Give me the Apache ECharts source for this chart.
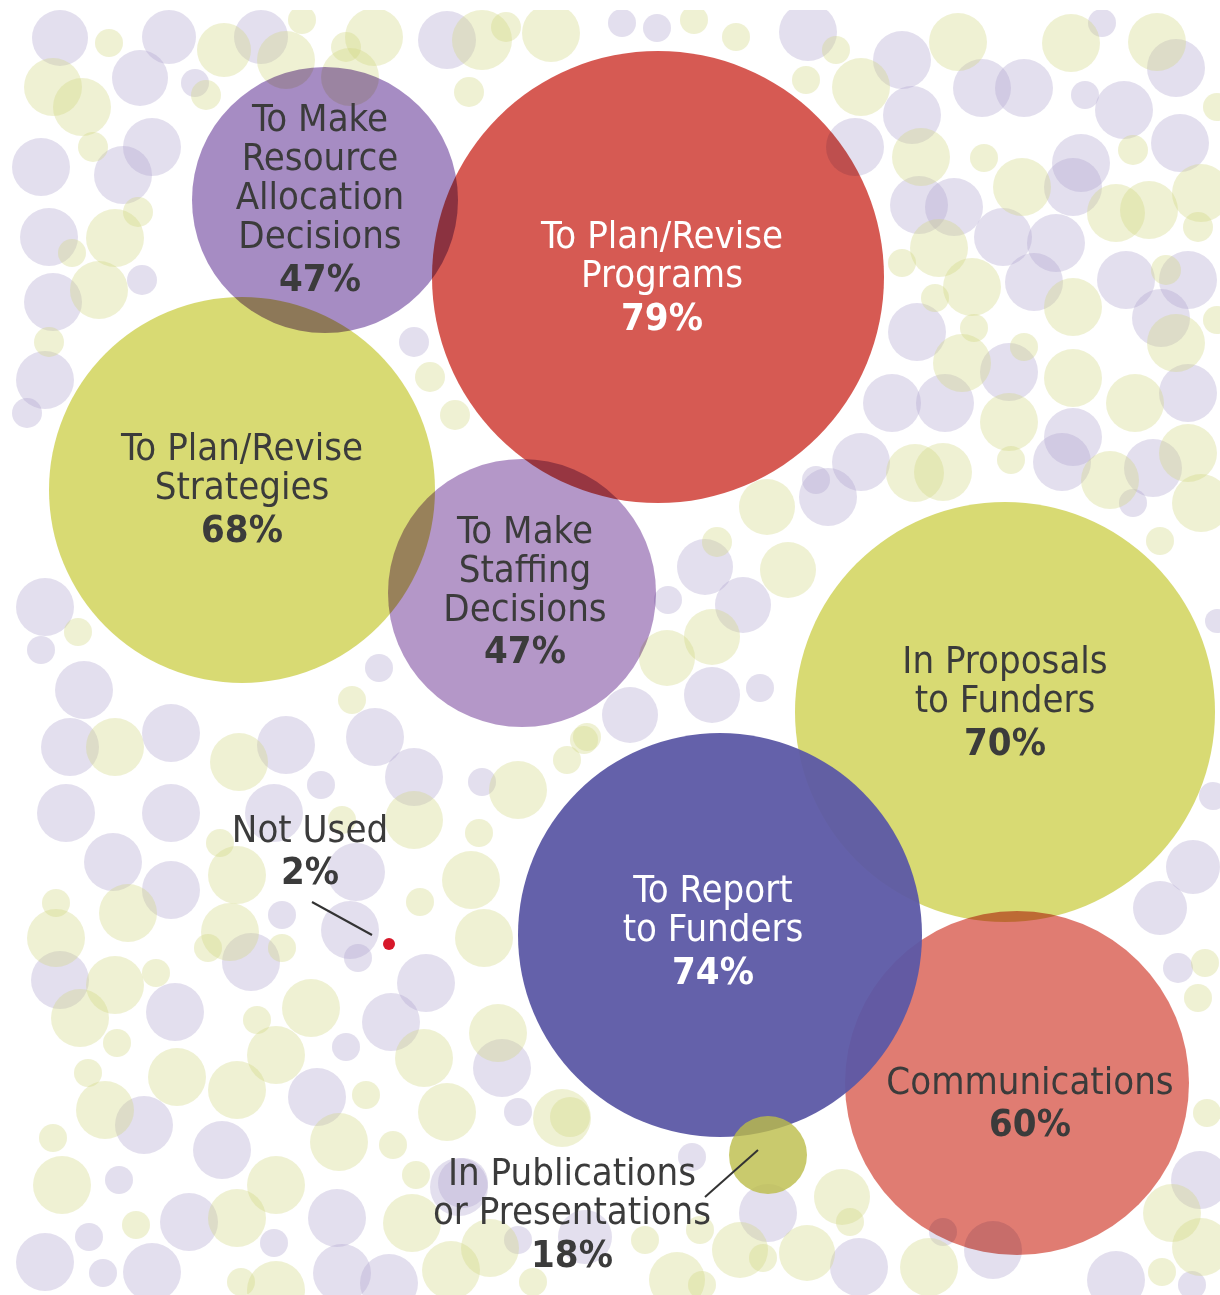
<!DOCTYPE html>
<html>
<head>
<meta charset="utf-8">
<script src="https://cdn.jsdelivr.net/npm/echarts@6/dist/echarts.min.js"></script>
<style>
  html, body { margin: 0; padding: 0; background: #fff; }
  #chart { width: 1220px; height: 1295px; }
</style>
</head>
<body>
<div id="chart"></div>
<script>
// uses of evaluation results (share of respondents)
const categories = [
  'To Make\nResource\nAllocation\nDecisions',
  'To Plan/Revise\nPrograms',
  'To Plan/Revise\nStrategies',
  'To Make\nStaffing\nDecisions',
  'In Proposals\nto Funders',
  'To Report\nto Funders',
  'Communications',
  'In Publications\nor Presentations',
  'Not Used'
];
const percents = [47, 79, 68, 47, 70, 74, 60, 18, 2];

// bubble layout (x, y, radius in px)
const bubbleX = [325, 658, 242, 522, 1005, 720, 1017, 768, 389];
const bubbleY = [200, 277, 490, 593, 712, 935, 1083, 1155, 944];
const bubbleR = [133, 226, 193, 134, 210, 202, 172, 39, 6];
const bubbleColors = ['#a68cc3', '#d65a53', '#d8da73', '#b497c8', '#d8da73', '#5c58a5', '#e07c72', '#bcbd48', '#d7182a'];
const textColors = ['#3b3b3b', '#ffffff', '#3b3b3b', '#3b3b3b', '#3b3b3b', '#ffffff', '#3b3b3b', '#3b3b3b', '#3b3b3b'];
const labelOffsets = [[-5, 3], [4, 4], [0, 3], [3, 2], [0, -6], [-7, 0], [13, 24], [-196, 63], [-79, -89]];
// 0 = multiply with what is under it, 1 / 2 = plain blend on top
const blendGroup = [0, 0, 0, 0, 0, 1, 0, 2, 0];

// leader lines for the labels placed outside their bubbles
const leaderLines = [
  [[312, 902], [372, 935]],
  [[705, 1197], [758, 1150]]
];

// decorative background dots [x, y, r]
const bgPurple = [
  [60,38,28],[169,37,27],[140,78,28],[195,83,14],[261,37,27],[447,40,29],[41,167,29],[152,147,29],
  [123,175,29],[49,237,29],[142,280,15],[53,302,29],[45,380,29],[414,342,15],[27,413,15],
  [622,23,14],[657,28,14],[808,32,29],[902,60,29],[912,115,29],[982,88,29],[1024,88,29],[1102,23,14],
  [1176,68,29],[1085,95,14],[1124,110,29],[855,147,29],[1081,163,29],[1073,187,29],[1180,143,29],
  [919,205,29],[954,207,29],[1003,237,29],[1056,243,29],[1034,282,29],[1126,280,29],[1188,280,29],
  [1161,318,29],[917,332,29],[1009,372,29],[1188,393,29],[892,403,29],[945,403,29],[1073,437,29],
  [1062,462,29],[1153,468,29],[861,462,29],[816,480,14],[828,497,29],[1133,503,14],
  [1217,621,12],[1213,796,14],[1193,867,27],[1160,908,27],[1178,968,15],
  [705,567,28],[668,600,14],[743,605,28],[712,695,28],[760,688,14],[630,715,28],
  [45,607,29],[41,650,14],[84,690,29],[379,668,14],[70,747,29],[171,733,29],[286,745,29],[375,737,29],
  [321,785,14],[414,777,29],[482,782,14],[66,813,29],[171,813,29],[274,813,29],[113,862,29],
  [171,890,29],[356,872,29],[282,915,14],[251,962,29],[350,930,29],[358,958,14],[426,983,29],
  [60,980,29],[175,1012,29],[391,1022,29],[346,1047,14],[502,1068,29],[317,1097,29],[144,1125,29],
  [518,1112,14],[222,1150,29],[119,1180,14],[459,1187,29],[189,1222,29],[337,1218,29],[89,1237,14],
  [274,1243,14],[45,1262,29],[103,1273,14],[152,1272,29],[342,1273,29],[389,1283,29],[518,1240,14],
  [463,1183,25],[585,1237,27],[692,1157,14],[768,1213,29],[859,1267,29],[943,1232,14],[993,1250,29],
  [1200,1180,29],[1116,1280,29],[1192,1285,14]
];
const bgYellow = [
  [109,43,14],[53,87,29],[82,107,29],[206,95,15],[224,50,27],[286,60,29],[302,20,14],[346,47,15],
  [350,77,29],[374,37,29],[482,40,30],[506,27,15],[551,33,29],[469,92,15],[93,147,15],[138,212,15],
  [115,238,29],[72,253,14],[99,290,29],[49,342,15],[430,377,15],[455,415,15],
  [694,20,14],[736,37,14],[836,50,14],[806,80,14],[861,87,29],[958,42,29],[1071,43,29],[1157,42,29],
  [1217,107,14],[921,157,29],[984,158,14],[1022,187,29],[1133,150,15],[1116,213,29],[1149,210,29],
  [1201,193,29],[1198,227,15],[939,248,29],[902,263,14],[972,287,29],[935,298,14],[1073,307,29],
  [1166,270,15],[1176,343,29],[1217,320,14],[974,328,14],[1024,347,14],[962,363,29],[1073,378,29],
  [1135,403,29],[1009,422,29],[1011,460,14],[1188,453,29],[1110,480,29],[915,473,29],[943,472,29],
  [767,507,28],[1201,503,29],[1160,541,14],
  [717,542,15],[788,570,28],[712,637,28],[667,658,28],[587,737,14],[567,760,14],
  [78,632,14],[352,700,14],[115,747,29],[239,762,29],[584,740,14],[518,790,29],[414,820,29],
  [479,833,14],[342,820,14],[220,843,14],
  [237,875,29],[471,880,29],[56,903,14],[56,938,29],[128,913,29],[230,932,29],[208,948,14],[282,948,14],
  [420,902,14],[484,938,29],[115,985,29],[156,973,14],[80,1018,29],[117,1043,14],[257,1020,14],
  [311,1008,29],[276,1055,29],[424,1058,29],[498,1033,29],[88,1073,14],[177,1077,29],[237,1090,29],
  [366,1095,14],[105,1110,29],[447,1112,29],[562,1118,29],[53,1138,14],[339,1142,29],[393,1145,14],
  [62,1185,29],[276,1185,29],[416,1175,14],[136,1225,14],[237,1218,29],[412,1223,29],[241,1282,14],
  [276,1290,29],[451,1270,29],[490,1248,29],[533,1282,14],
  [570,1117,20],[740,1250,28],[807,1253,28],[763,1258,14],[842,1197,28],[850,1222,14],[700,1230,14],
  [645,1240,14],[677,1280,28],[702,1285,14],[929,1267,29],
  [1205,963,14],[1198,998,14],[1207,1113,14],[1172,1213,29],[1201,1247,29],[1162,1272,14]
];

const fontFamily = "'Liberation Sans Narrow', 'DejaVu Sans Condensed', sans-serif";

function bubbleSeries(group) {
  return categories
    .map((name, i) => ({
      name: name,
      value: [bubbleX[i], bubbleY[i], bubbleR[i]],
      itemStyle: { color: bubbleColors[i] },
      g: blendGroup[i]
    }))
    .filter(d => d.g === group)
    .map(d => ({ name: d.name, value: d.value, itemStyle: d.itemStyle }));
}

const labelData = categories.map((name, i) => ({
  name: name,
  value: [bubbleX[i], bubbleY[i], percents[i]],
  label: {
    show: true,
    position: 'inside',
    offset: labelOffsets[i],
    formatter: function () {
      return '{t|' + name.split('\n').join('}\n{t|') + '}\n{p|' + percents[i] + '%}';
    },
    rich: {
      t: { fontFamily: fontFamily, fontSize: 38, lineHeight: 39, color: textColors[i], align: 'center' },
      p: { fontFamily: fontFamily, fontSize: 38, fontWeight: 'bold', lineHeight: 46, color: textColors[i], align: 'center' }
    }
  }
}));

const chart = echarts.init(document.getElementById('chart'), null, { renderer: 'canvas' });
chart.setOption({
  animation: false,
  backgroundColor: '#ffffff',
  grid: { left: 0, right: 0, top: 0, bottom: 0 },
  xAxis: { type: 'value', min: 0, max: 1220, show: false },
  yAxis: { type: 'value', min: 0, max: 1295, inverse: true, show: false },
  graphic: [
    { type: 'rect', z: 100, shape: { x: 0, y: 0, width: 1220, height: 10 }, style: { fill: '#ffffff' } },
    { type: 'rect', z: 100, shape: { x: 0, y: 0, width: 12, height: 1295 }, style: { fill: '#ffffff' } }
  ],
  series: [
    {
      type: 'scatter',
      silent: true,
      data: bgPurple,
      symbolSize: function (v) { return v[2] * 2; },
      itemStyle: { color: 'rgb(175,164,206)', opacity: 0.35 },
      z: 1
    },
    {
      type: 'scatter',
      silent: true,
      data: bgYellow,
      symbolSize: function (v) { return v[2] * 2; },
      itemStyle: { color: 'rgb(209,215,129)', opacity: 0.35 },
      z: 1
    },
    {
      type: 'scatter',
      silent: true,
      data: bubbleSeries(0),
      symbolSize: function (v) { return v[2] * 2; },
      itemStyle: { opacity: 1 },
      blendMode: 'multiply',
      z: 2
    },
    {
      type: 'scatter',
      silent: true,
      data: bubbleSeries(1),
      symbolSize: function (v) { return v[2] * 2; },
      itemStyle: { opacity: 0.95 },
      z: 3
    },
    {
      type: 'scatter',
      silent: true,
      data: bubbleSeries(2),
      symbolSize: function (v) { return v[2] * 2; },
      itemStyle: { opacity: 0.8 },
      z: 3
    },
    {
      type: 'lines',
      coordinateSystem: 'cartesian2d',
      silent: true,
      data: leaderLines.map(c => ({ coords: c })),
      lineStyle: { color: '#333333', width: 2, opacity: 1 },
      z: 4
    },
    {
      type: 'scatter',
      silent: true,
      data: labelData,
      symbolSize: 1,
      itemStyle: { color: 'rgba(0,0,0,0)', opacity: 1 },
      z: 5
    }
  ]
});
</script>
</body>
</html>
